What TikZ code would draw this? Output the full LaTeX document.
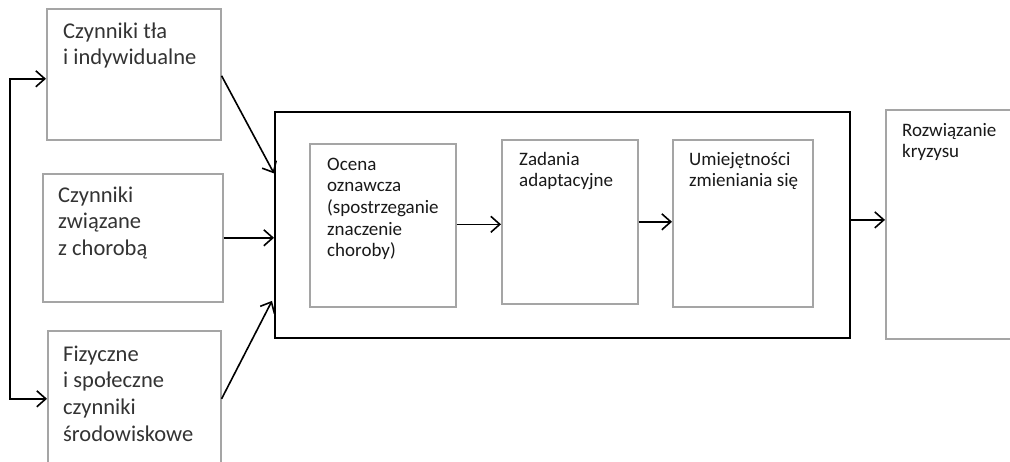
\documentclass[tikz,border=0pt]{standalone}
\usepackage{fontspec}
\setmainfont{Carlito}
\usetikzlibrary{arrows.meta}
\definecolor{boxgray}{RGB}{165,165,165}
\newcommand{\ltxt}[1]{\parbox[t]{220pt}{\raggedright\fontsize{22.5}{26.8}\selectfont #1}}
\newcommand{\stxt}[1]{\parbox[t]{160pt}{\raggedright\fontsize{19}{21.7}\selectfont #1}}
\tikzset{
  box/.style={draw=boxgray, line width=1.6pt, anchor=north west, inner sep=0pt, fill=white},
  bigbox/.style={draw=black, line width=1.8pt, anchor=north west, inner sep=0pt},
  arr/.style={line width=1.6pt, -{Straight Barb[length=9pt,width=16pt,line width=1.6pt]}},
  bigtxt/.style={anchor=base west, inner sep=0pt, text=black!80},
  smalltxt/.style={anchor=base west, inner sep=0pt, text=black!90},
}
\begin{document}
\begin{tikzpicture}[x=1pt,y=-1pt]
\useasboundingbox (0,0) rectangle (1010,461);
\clip (0,0) rectangle (1010,461);
\fill[white] (0,0) rectangle (1010,461);
% left boxes
\node[box, minimum width=174pt, minimum height=131pt] (b1) at (46,8) {};
\node[box, minimum width=180pt, minimum height=128pt] (b2) at (42,173) {};
\node[box, minimum width=173pt, minimum height=140pt] (b3) at (47,330) {};
% big box
\node[bigbox, minimum width=575pt, minimum height=226pt] (big) at (274,111) {};
% inner boxes
\node[box, minimum width=146pt, minimum height=163pt] (ba) at (309,143) {};
\node[box, minimum width=136pt, minimum height=164pt] (bb) at (501,139) {};
\node[box, minimum width=140pt, minimum height=167pt] (bc) at (672,139) {};
% result box
\node[box, minimum width=170pt, minimum height=229pt] (bd) at (885,109) {};
% texts
\node[bigtxt] (t1) at (63,38) {\ltxt{Czynniki tła\\i indywidualne}};
\node[bigtxt] (t2) at (58,202) {\ltxt{Czynniki\\związane\\z chorobą}};
\node[bigtxt] (t3) at (63,361) {\ltxt{Fizyczne\\i społeczne\\czynniki\\środowiskowe}};
\node[smalltxt] (ta) at (327,170) {\stxt{Ocena\\oznawcza\\(spostrzeganie\\znaczenie\\choroby)}};
\node[smalltxt] (tb) at (519,165) {\stxt{Zadania\\adaptacyjne}};
\node[smalltxt] (tc) at (689,165) {\stxt{Umiejętności\\zmieniania się}};
\node[smalltxt] (td) at (902,136) {\stxt{Rozwiązanie\\kryzysu}};
% feedback bracket
\coordinate (fb) at (10,238);
\draw[arr] (fb) |- ([yshift=-4.5pt]b1.west);
\draw[arr] (fb) |- ([yshift=2pt]b3.west);
% arrows into big box
\draw[arr] ([yshift=-1.5pt]b1.east) -- ([yshift=51.5pt]big.west);
\draw[arr] (b2.east) -- (b2.east -| big.west);
\draw[arr] ([yshift=2pt]b3.east) -- ([yshift=-76pt,xshift=-2pt]big.west);
% inner arrows
\draw[arr] ([yshift=1pt]ba.east) -- ([yshift=1pt]ba.east -| bb.west);
\draw[arr] (bb.east) -- (bb.east -| bc.west);
\draw[arr] ([yshift=5pt]big.east) -- ([yshift=5pt]big.east -| bd.west);
\end{tikzpicture}
\end{document}
